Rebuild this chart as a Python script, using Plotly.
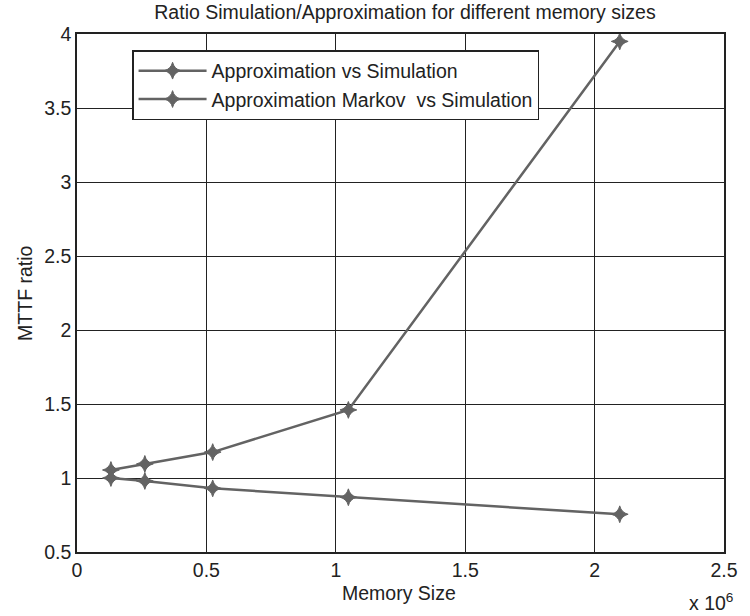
import plotly.graph_objects as go

memory_sizes = [131072, 262144, 524288, 1048576, 2097152]
approx_vs_sim = [1.054, 1.095, 1.175, 1.46, 3.95]
markov_vs_sim = [1.0, 0.98, 0.93, 0.87, 0.755]
series_names = ["Approximation vs Simulation", "Approximation Markov  vs Simulation"]
x_tickvals = [0, 500000, 1000000, 1500000, 2000000, 2500000]
x_ticktext = ["0", "0.5", "1", "1.5", "2", "2.5"]
y_tickvals = [0.5, 1, 1.5, 2, 2.5, 3, 3.5, 4]
y_ticktext = ["0.5", "1", "1.5", "2", "2.5", "3", "3.5", "4"]

FONT = "Liberation Sans, Arial, Helvetica, sans-serif"
FS = 19.5
LINE_COLOR = "#636363"
INK = "#222222"

fig = go.Figure()
for name, ys in zip(series_names, [approx_vs_sim, markov_vs_sim]):
    fig.add_trace(go.Scatter(
        x=memory_sizes, y=ys, name=name, mode="lines+markers",
        line=dict(color=LINE_COLOR, width=2.5),
        marker=dict(symbol="star-diamond", size=12, color=LINE_COLOR,
                    line=dict(color=LINE_COLOR, width=1)),
    ))

axis_common = dict(
    showgrid=True, gridcolor=INK, gridwidth=1,
    showline=True, linecolor=INK, linewidth=1.5, mirror=True,
    ticks="inside", ticklen=5, tickcolor=INK,
    zeroline=False, tickfont=dict(family=FONT, size=FS, color=INK),
)

fig.update_layout(
    width=750, height=616,
    margin=dict(l=77, r=15, t=34, b=64),
    paper_bgcolor="white", plot_bgcolor="white",
    font=dict(family=FONT, color=INK),
    title=dict(text="Ratio Simulation/Approximation for different memory sizes",
               x=405 / 750, xanchor="center", y=1 - 12 / 616, yanchor="middle",
               font=dict(family=FONT, size=FS, color=INK)),
    xaxis=dict(range=[0, 2500000], tickvals=x_tickvals, ticktext=x_ticktext,
               **axis_common),
    yaxis=dict(range=[0.5, 4], tickvals=y_tickvals, ticktext=y_ticktext,
               **axis_common),
    legend=dict(x=(133 - 77) / 658, y=(552 - 50) / 518, xanchor="left", yanchor="top",
                bgcolor="white", bordercolor=INK, borderwidth=1.5,
                font=dict(family=FONT, size=FS, color=INK),
                itemwidth=68, tracegroupgap=0),
    showlegend=True,
)

# axis titles
fig.add_annotation(text="Memory Size", xref="paper", yref="paper",
                   x=(404 - 77) / 658, y=-(593 - 552) / 518, xanchor="center", yanchor="middle",
                   showarrow=False, font=dict(family=FONT, size=FS, color=INK))
fig.add_annotation(text="MTTF ratio", xref="paper", yref="paper", textangle=-90,
                   x=-(77 - 24) / 658, y=0.5, xanchor="center", yanchor="middle",
                   showarrow=False, font=dict(family=FONT, size=FS, color=INK))
fig.add_annotation(text="x 10<sup>6</sup>", xref="paper", yref="paper",
                   x=(746 - 77) / 658, y=-(602 - 552) / 518, xanchor="right", yanchor="middle",
                   showarrow=False, font=dict(family=FONT, size=FS, color=INK))

fig.write_html("out.html")
